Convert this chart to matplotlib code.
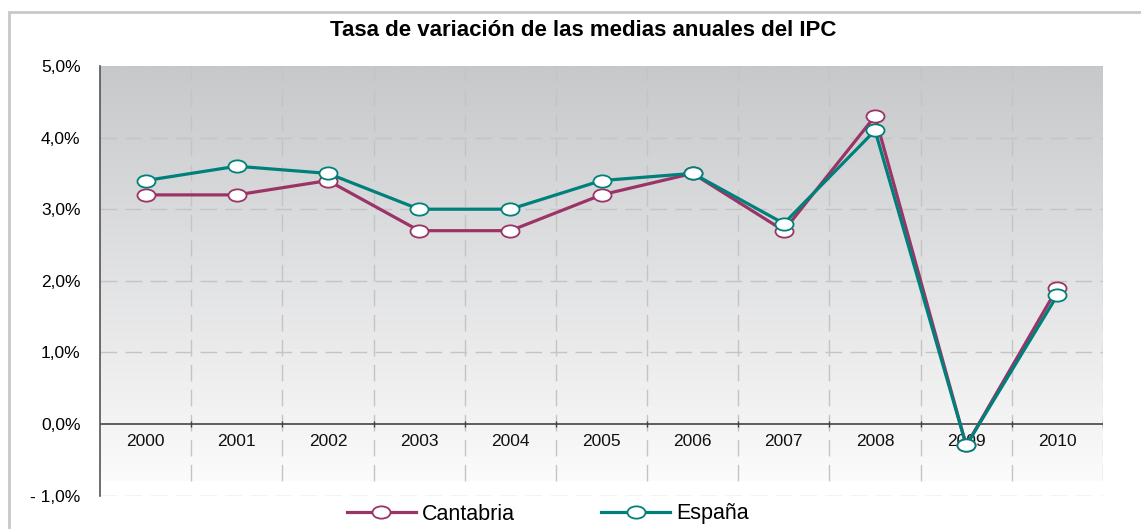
import numpy as np
from matplotlib import pyplot as plt
from matplotlib.path import Path
from matplotlib.patches import Rectangle

years = ['2000', '2001', '2002', '2003', '2004', '2005',
         '2006', '2007', '2008', '2009', '2010']
cantabria = [3.2, 3.2, 3.4, 2.7, 2.7, 3.2, 3.5, 2.7, 4.3, -0.3, 1.9]
espana = [3.4, 3.6, 3.5, 3.0, 3.0, 3.4, 3.5, 2.8, 4.1, -0.3, 1.8]
yticks = [-1, 0, 1, 2, 3, 4, 5]
ylabels = ['- 1,0%', '0,0%', '1,0%', '2,0%', '3,0%', '4,0%', '5,0%']

title = 'Tasa de variación de las medias anuales del IPC'
col_cant = '#9b3466'
col_esp = '#00807a'


def main():
    plt.rcParams['font.family'] = ['Liberation Sans', 'DejaVu Sans']
    fig = plt.figure(figsize=(11.41, 5.29), dpi=100)

    # grey chart frame (cut off at the right/bottom of the picture)
    fig.patches.append(Rectangle((9 / 1141, -0.1), 1.2, 1 - 12 / 529 + 0.1,
                                 transform=fig.transFigure, fill=False,
                                 edgecolor='#c8c8c8', linewidth=2))

    ax = fig.add_axes([100 / 1141, 1 - 495.6 / 529, 1003 / 1141, 429.6 / 529])
    n = len(years)
    x = np.arange(n)
    ax.set_xlim(-0.5, n - 0.5)
    ax.set_ylim(-1, 5)

    # gradient background: grey on top fading to white
    grad = np.linspace(0, 1, 256).reshape(-1, 1)
    top = np.array([0.78, 0.785, 0.795])
    bot = np.array([0.985, 0.985, 0.985])
    img = top + (bot - top) * grad[..., None]
    ax.imshow(img, extent=[-0.5, n - 0.5, -0.8, 5], aspect='auto',
              origin='upper', zorder=0)

    # grid
    for yv in yticks:
        if yv == 0:
            continue
        ax.axhline(yv, color='#c4c4c4', lw=1, dashes=(12, 6), zorder=1)
    ax.vlines(np.arange(0.5, n, 1.0), -0.8, 5, color='#c4c4c4', lw=1,
              linestyles=(0, (12, 6)), zorder=1)
    ax.axhline(0, color='#444444', lw=1.2, zorder=2)
    ax.vlines(np.arange(0.5, n, 1.0), -0.04, 0.04, color='#444444', lw=1,
              zorder=2)

    # ellipse marker
    circ = Path.unit_circle()
    ell = Path(circ.vertices * np.array([1.0, 0.68]), circ.codes)

    ax.plot(x, cantabria, color=col_cant, lw=2.3, marker=ell, markersize=13,
            markerfacecolor='white', markeredgecolor=col_cant,
            markeredgewidth=1.3, label='Cantabria', zorder=3)
    ax.plot(x, espana, color=col_esp, lw=2.3, marker=ell, markersize=13,
            markerfacecolor='white', markeredgecolor=col_esp,
            markeredgewidth=1.3, label='España', zorder=4)

    for i, yr in enumerate(years):
        ax.text(i, -0.24, yr, ha='center', va='center', fontsize=12.5,
                color='#111111', zorder=2)

    ax.set_xticks([])
    ax.set_yticks(yticks)
    ax.set_yticklabels(ylabels, fontsize=12.5)
    ax.tick_params(axis='y', length=0, pad=14)
    for s in ['top', 'right', 'bottom']:
        ax.spines[s].set_visible(False)
    ax.spines['left'].set_color('#555555')
    ax.spines['left'].set_linewidth(1.2)

    fig.text(583 / 1141, 1 - 30 / 529, title, ha='center', va='center',
             fontsize=16, fontweight='bold')

    fig.legend(loc='center', bbox_to_anchor=(548 / 1141, 1 - 514 / 529),
               ncol=2, frameon=False, fontsize=15.5, handlelength=3.2,
               columnspacing=4.0, handletextpad=0.3, borderpad=0.1)

    fig.savefig('out.png', dpi=100)
    return 0


if __name__ == '__main__':
    raise SystemExit(main())
